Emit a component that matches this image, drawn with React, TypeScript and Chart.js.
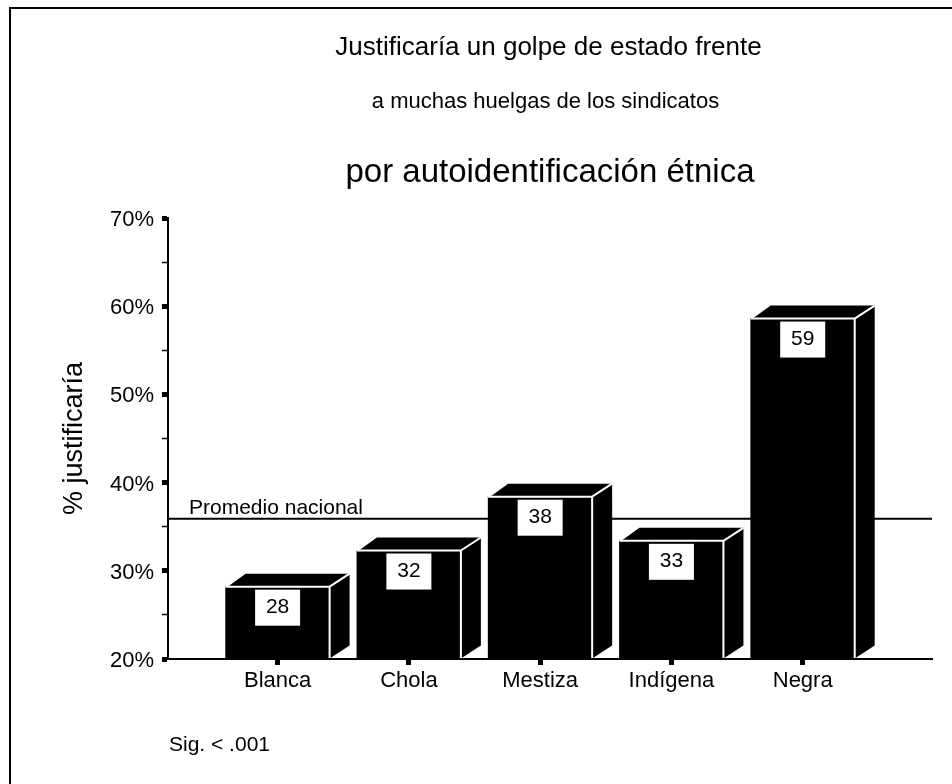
import React, { useEffect, useRef } from "react";
import { Chart, registerables } from "chart.js";

Chart.register(...registerables);

const categories = ["Blanca", "Chola", "Mestiza", "Indígena", "Negra"];
const percentages = [28.2, 32.3, 38.4, 33.4, 58.6];
const valueLabels = ["28", "32", "38", "33", "59"];
const nationalAverage = 35.9;
const titleLine1 = "Justificaría un golpe de estado frente";
const titleLine2 = "a muchas huelgas de los sindicatos";
const titleLine3 = "por autoidentificación étnica";
const averageLabel = "Promedio nacional";
const sigNote = "Sig. < .001";
const yTitle = "% justificaría";

const FONT = '"Liberation Sans", Arial, sans-serif';
const X_MIN = -0.835;
const X_MAX = 4.985;
const DEPTH_X = 20;
const DEPTH_Y = 13;

const decor = {
  id: "decor",
  afterDatasetsDraw(chart: any) {
    const { ctx } = chart;
    const meta = chart.getDatasetMeta(0);
    ctx.save();
    meta.data.forEach((bar: any, i: number) => {
      const w = bar.width;
      const left = bar.x - w / 2;
      const right = bar.x + w / 2;
      const top = bar.y;
      const base = bar.base;
      ctx.fillStyle = "#000";
      ctx.beginPath();
      ctx.moveTo(left + 2, top);
      ctx.lineTo(left + DEPTH_X, top - DEPTH_Y);
      ctx.lineTo(right + DEPTH_X, top - DEPTH_Y);
      ctx.lineTo(right, top);
      ctx.closePath();
      ctx.fill();
      ctx.beginPath();
      ctx.moveTo(right, top);
      ctx.lineTo(right + DEPTH_X, top - DEPTH_Y);
      ctx.lineTo(right + DEPTH_X, base - DEPTH_Y);
      ctx.lineTo(right, base);
      ctx.closePath();
      ctx.fill();
      ctx.strokeStyle = "#fff";
      ctx.lineWidth = 2;
      ctx.beginPath();
      ctx.moveTo(left, top);
      ctx.lineTo(right, top);
      ctx.lineTo(right, base);
      ctx.moveTo(right, top);
      ctx.lineTo(right + DEPTH_X, top - DEPTH_Y);
      ctx.stroke();
      const bw = 45;
      const bh = 36;
      ctx.fillStyle = "#fff";
      ctx.fillRect(bar.x - bw / 2, top + 3, bw, bh);
      ctx.fillStyle = "#000";
      ctx.font = `21px ${FONT}`;
      ctx.textAlign = "center";
      ctx.textBaseline = "middle";
      ctx.fillText(valueLabels[i], bar.x, top + 20.5);
    });
    const xs = chart.scales.x;
    const ys = chart.scales.y;
    ctx.strokeStyle = "#000";
    ctx.lineWidth = 2;
    ctx.beginPath();
    ctx.moveTo(xs.left, ys.bottom);
    ctx.lineTo(xs.right, ys.bottom);
    ctx.stroke();

    ctx.fillStyle = "#000";
    ctx.textBaseline = "alphabetic";
    ctx.textAlign = "center";
    ctx.font = `26px ${FONT}`;
    ctx.fillText(titleLine1, 548.5, 55);
    ctx.font = `22px ${FONT}`;
    ctx.fillText(titleLine2, 545.5, 108);
    ctx.font = `33px ${FONT}`;
    ctx.fillText(titleLine3, 550, 182);
    ctx.textAlign = "left";
    ctx.font = `21px ${FONT}`;
    ctx.fillText(averageLabel, 189, 514);
    ctx.fillText(sigNote, 169, 751);
    ctx.restore();
  },
};

export default function App() {
  const ref = useRef<HTMLCanvasElement>(null);
  useEffect(() => {
    const chart = new Chart(ref.current as HTMLCanvasElement, {
      type: "bar",
      data: {
        datasets: [
          {
            type: "bar",
            label: "% justificaría",
            data: categories.map((_, i) => ({ x: i, y: percentages[i] })),
            backgroundColor: "#000",
            barThickness: 104,
            base: 20,
            order: 1,
          },
          {
            type: "line",
            label: averageLabel,
            data: [
              { x: X_MIN, y: nationalAverage },
              { x: X_MAX, y: nationalAverage },
            ],
            borderColor: "#000",
            borderWidth: 2,
            pointRadius: 0,
            order: 2,
          },
        ],
      } as any,
      options: {
        animation: false,
        responsive: false,
        layout: { padding: { left: 0, right: 20, top: 218, bottom: 0 } },
        plugins: { legend: { display: false }, tooltip: { enabled: false }, title: { display: false } },
        scales: {
          x: {
            type: "linear",
            offset: false,
            min: X_MIN,
            max: X_MAX,
            afterBuildTicks: (s: any) => {
              s.ticks = categories.map((_, i) => ({ value: i }));
            },
            afterFit: (s: any) => {
              s.height = 125;
            },
            ticks: {
              callback: (v: any) => categories[v as number],
              font: { family: FONT, size: 22 },
              color: "#000",
              padding: 3,
              maxRotation: 0,
              autoSkip: false,
            },
            grid: { display: true, offset: false, drawOnChartArea: false, tickLength: 6, tickWidth: 5, tickColor: "#000" },
            border: { color: "#000", width: 2 },
          },
          y: {
            type: "linear",
            min: 20,
            max: 70,
            afterFit: (s: any) => {
              s.width = 168;
            },
            ticks: {
              stepSize: 5,
              callback: (v: any) => (Number(v) % 10 === 0 ? `${v}%` : ""),
              font: { family: FONT, size: 22 },
              color: "#000",
              padding: 8,
              labelOffset: 2,
              autoSkip: false,
            },
            grid: {
              display: true,
              drawOnChartArea: false,
              tickLength: 6,
              tickWidth: (c: any) => (c.tick.value % 10 === 0 ? 5 : 1.5),
              tickColor: "#000",
            },
            border: { color: "#000", width: 2 },
            title: {
              display: true,
              text: yTitle,
              font: { family: FONT, size: 27 },
              color: "#000",
              padding: { top: 58, bottom: 0 },
            },
          },
        },
      },
      plugins: [decor],
    } as any);
    return () => chart.destroy();
  }, []);
  return (
    <div style={{ position: "absolute", left: 0, top: 0, width: 952, height: 784, background: "#fff", overflow: "hidden" }}>
      <canvas ref={ref} width={952} height={784} style={{ position: "absolute", left: 0, top: 0 }} />
      <div
        style={{
          position: "absolute",
          left: 9,
          top: 7,
          width: 2000,
          height: 2000,
          borderLeft: "2px solid #000",
          borderTop: "2px solid #000",
          pointerEvents: "none",
        }}
      />
    </div>
  );
}
